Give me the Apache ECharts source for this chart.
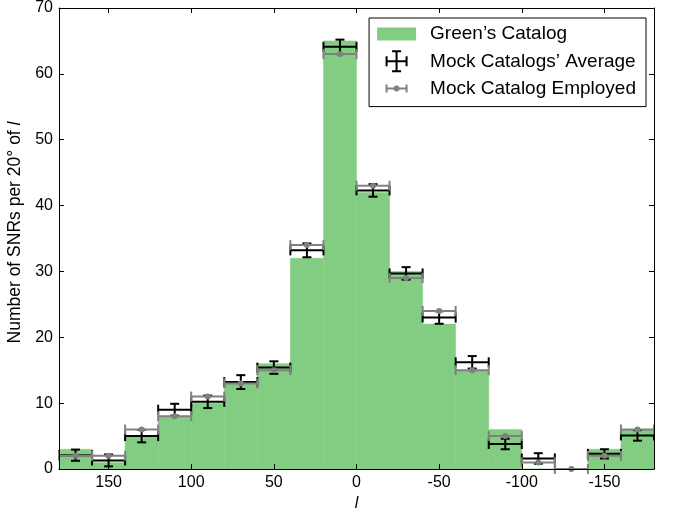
<!DOCTYPE html>
<html>
<head>
<meta charset="utf-8">
<script src="https://cdn.jsdelivr.net/npm/echarts@6/dist/echarts.min.js"></script>
<style>html,body{margin:0;padding:0;background:#fff}#c{width:673px;height:512px}</style>
</head>
<body>
<div id="c"></div>
<script>
// ---- data ----
var binCenters = [170, 150, 130, 110, 90, 70, 50, 30, 10, -10, -30, -50, -70, -90, -110, -130, -150, -170];
var binWidth = 20;
var greenCounts = [3, 1, 5, 8, 10, 13, 16, 32, 65, 42, 30, 22, 15, 6, 0, 0, 3, 6];
var mockAverage = [2.1, 1.3, 5.0, 9.0, 10.2, 13.2, 15.4, 33.2, 64.1, 42.3, 29.7, 23.0, 16.2, 3.8, 1.6, null, 2.3, 5.1];
var mockError   = [0.85, 0.9, 0.95, 0.9, 0.95, 1.05, 0.95, 1.05, 1.1, 0.95, 0.95, 0.95, 0.95, 0.8, 0.8, null, 0.7, 0.8];
var mockEmployed = [2, 2, 6, 8, 11, 13, 15, 34, 63, 43, 29, 24, 15, 5, 1, 0, 2, 6];
var xTicks = [150, 100, 50, 0, -50, -100, -150];
var legendNames = ["Green\u2019s Catalog", "Mock Catalogs\u2019 Average", "Mock Catalog Employed"];

var half = binWidth / 2;
var greenData = binCenters.map(function (c, i) { return [c, greenCounts[i]]; });
var avgData = [];
binCenters.forEach(function (c, i) { if (mockAverage[i] !== null) avgData.push([c, mockAverage[i], mockError[i]]); });
var empData = binCenters.map(function (c, i) { return [c, mockEmployed[i]]; });

var FONT = 'Liberation Sans';
var GREEN = '#82cd82';

function line(x1, y1, x2, y2, color, w) {
  return { type: 'line', shape: { x1: x1, y1: y1, x2: x2, y2: y2 }, style: { stroke: color, lineWidth: w } };
}

var chart = echarts.init(document.getElementById('c'), null, { renderer: 'canvas' });
chart.setOption({
  animation: false,
  backgroundColor: '#fff',
  grid: { left: 59, right: 19, top: 8, bottom: 43, containLabel: false, outerBoundsMode: 'none' },
  legend: {
    right: 27, top: 18,
    orient: 'vertical',
    backgroundColor: '#fff',
    borderColor: '#000', borderWidth: 1, borderRadius: 0,
    padding: [5, 10, 7, 8],
    itemWidth: 48, itemHeight: 22, itemGap: 5.3,
    textStyle: { fontFamily: FONT, fontSize: 19, color: '#000' },
    data: [
      { name: legendNames[0], icon: 'path://M0,0 L0.01,0 Z M0,4.5 L39,4.5 L39,17.5 L0,17.5 Z M48,22 L47.99,22 Z', itemStyle: { color: GREEN } },
      { name: legendNames[1], icon: 'path://M0,0 L0.01,0 Z M8.5,10 L30.5,10 L30.5,12 L8.5,12 Z M8.5,6 L10.5,6 L10.5,16 L8.5,16 Z M28.5,6 L30.5,6 L30.5,16 L28.5,16 Z M18.5,0 L20.5,0 L20.5,22 L18.5,22 Z M15,0 L24,0 L24,2 L15,2 Z M15,20 L24,20 L24,22 L15,22 Z M48,22 L47.99,22 Z', itemStyle: { color: '#000' } },
      { name: legendNames[2], icon: 'path://M0,0 L0.01,0 Z M8.5,10 L30.5,10 L30.5,12 L8.5,12 Z M8.5,7 L10.5,7 L10.5,15 L8.5,15 Z M28.5,7 L30.5,7 L30.5,15 L28.5,15 Z M16.5,11 A3,3 0 1,1 22.5,11 A3,3 0 1,1 16.5,11 Z M48,22 L47.99,22 Z', itemStyle: { color: '#808080' } }
    ]
  },
  xAxis: [{
    type: 'value', min: -180, max: 180, inverse: true, z: 10,
    name: 'l', nameLocation: 'middle', nameGap: 17,
    nameTextStyle: { fontFamily: FONT, fontSize: 16, fontStyle: 'italic', color: '#000' },
    axisLine: { show: true, onZero: false, lineStyle: { color: '#000', width: 1 } },
    axisTick: { show: true, inside: true, length: 5, customValues: xTicks, lineStyle: { color: '#000' } },
    axisLabel: { show: true, customValues: xTicks, margin: 6, fontFamily: FONT, fontSize: 16, color: '#000' },
    splitLine: { show: false }
  }, {
    type: 'value', min: -180, max: 180, inverse: true, position: 'top', z: 10,
    axisLine: { show: true, onZero: false, lineStyle: { color: '#000', width: 1 } },
    axisTick: { show: true, inside: true, length: 5, customValues: xTicks, lineStyle: { color: '#000' } },
    axisLabel: { show: false },
    splitLine: { show: false }
  }],
  yAxis: [{
    type: 'value', min: 0, max: 70, interval: 10, z: 10,
    name: 'Number of SNRs per 20\u00b0 of {i|l}', nameLocation: 'middle', nameGap: 29,
    nameTextStyle: { fontFamily: FONT, fontSize: 17.5, color: '#000', padding: [0, 0, 0, 12], rich: { i: { fontFamily: FONT, fontSize: 17.5, fontStyle: 'italic', color: '#000' } } },
    axisLine: { show: true, onZero: false, lineStyle: { color: '#000', width: 1 } },
    axisTick: { show: true, inside: true, length: 5, lineStyle: { color: '#000' } },
    axisLabel: { show: true, margin: 6, padding: [5, 0, 0, 0], fontFamily: FONT, fontSize: 16, color: '#000' },
    splitLine: { show: false }
  }, {
    type: 'value', min: 0, max: 70, interval: 10, position: 'right', z: 10,
    axisLine: { show: true, onZero: false, lineStyle: { color: '#000', width: 1 } },
    axisTick: { show: true, inside: true, length: 5, lineStyle: { color: '#000' } },
    axisLabel: { show: false },
    splitLine: { show: false }
  }],
  series: [{
    name: legendNames[0], type: 'custom', xAxisIndex: 0, yAxisIndex: 0, z: 2,
    itemStyle: { color: GREEN },
    encode: { x: 0, y: 1 },
    data: greenData,
    renderItem: function (params, api) {
      var c = api.value(0), v = api.value(1);
      var p0 = api.coord([c + half, v]);
      var p1 = api.coord([c - half, 0]);
      return { type: 'rect', shape: { x: p0[0], y: p0[1], width: p1[0] - p0[0], height: p1[1] - p0[1] }, style: { fill: GREEN, stroke: GREEN, lineWidth: 0.5 } };
    }
  }, {
    name: legendNames[1], type: 'custom', xAxisIndex: 0, yAxisIndex: 0, z: 3, clip: false,
    itemStyle: { color: '#000' },
    encode: { x: 0, y: 1 },
    data: avgData,
    renderItem: function (params, api) {
      var c = api.value(0), v = api.value(1), e = api.value(2);
      var pl = api.coord([c + half, v]), pr = api.coord([c - half, v]);
      var pt = api.coord([c, v + e]), pb = api.coord([c, v - e]);
      var col = '#000', w = 2, hc = 5, vc = 4.5;
      return { type: 'group', children: [
        line(pl[0], pl[1], pr[0], pr[1], col, w),
        line(pl[0], pl[1] - hc, pl[0], pl[1] + hc, col, w),
        line(pr[0], pr[1] - hc, pr[0], pr[1] + hc, col, w),
        line(pt[0], pt[1], pb[0], pb[1], col, w),
        line(pt[0] - vc, pt[1], pt[0] + vc, pt[1], col, w),
        line(pb[0] - vc, pb[1], pb[0] + vc, pb[1], col, w)
      ] };
    }
  }, {
    name: legendNames[2], type: 'custom', xAxisIndex: 0, yAxisIndex: 0, z: 4, clip: false,
    itemStyle: { color: '#808080' },
    encode: { x: 0, y: 1 },
    data: empData,
    renderItem: function (params, api) {
      var c = api.value(0), v = api.value(1);
      var pl = api.coord([c + half, v]), pr = api.coord([c - half, v]), pc = api.coord([c, v]);
      var col = '#808080', w = 2, hc = 5;
      return { type: 'group', children: [
        line(pl[0], pl[1], pr[0], pr[1], col, w),
        line(pl[0], pl[1] - hc, pl[0], pl[1] + hc, col, w),
        line(pr[0], pr[1] - hc, pr[0], pr[1] + hc, col, w),
        { type: 'circle', shape: { cx: pc[0], cy: pc[1], r: 3 }, style: { fill: col } }
      ] };
    }
  }]
});
</script>
</body>
</html>
